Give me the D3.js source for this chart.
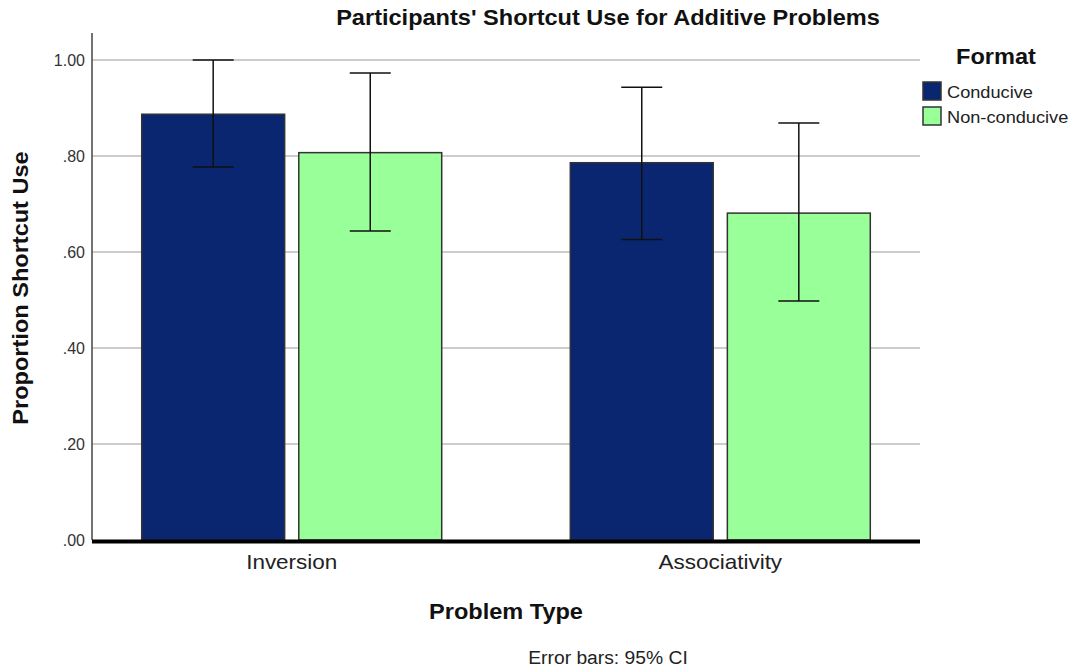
<!DOCTYPE html>
<html><head><meta charset="utf-8">
<script src="https://cdn.jsdelivr.net/npm/d3@7"></script>
<style>
body{margin:0;background:#fff;}
text{font-family:"Liberation Sans",Arial,sans-serif;}
</style>
</head><body>
<svg id="chart" width="1073" height="672"></svg>
<script>
const categories = ["Inversion", "Associativity"];
const seriesNames = ["Conducive", "Non-conducive"];
const conduciveMean = [0.887, 0.786];
const conduciveLow = [0.777, 0.626];
const conduciveHigh = [1.0, 0.943];
const nonConduciveMean = [0.807, 0.681];
const nonConduciveLow = [0.644, 0.498];
const nonConduciveHigh = [0.973, 0.869];
const yTicks = [0, 0.2, 0.4, 0.6, 0.8, 1.0];
const colors = ["#0a2670", "#99ff99"];

const series = [
  {name: seriesNames[0], mean: conduciveMean, lo: conduciveLow, hi: conduciveHigh},
  {name: seriesNames[1], mean: nonConduciveMean, lo: nonConduciveLow, hi: nonConduciveHigh}
];
const rows = [];
categories.forEach((c, i) => series.forEach((s, j) => rows.push({cat: c, ser: s.name, idx: j, mean: s.mean[i], lo: s.lo[i], hi: s.hi[i]})));

const svg = d3.select("#chart");
const mLeft = 92, mRight = 920, mTop = 33, mBottom = 540;

const y = d3.scaleLinear().domain([0, 1]).range([mBottom, 60]);
const x0 = d3.scaleBand().domain(categories).range([mLeft, mRight]).paddingInner(0.30).paddingOuter(0.116);
const x1 = d3.scaleBand().domain(seriesNames).range([0, x0.bandwidth()]).paddingInner(0.09).paddingOuter(0);
const color = d3.scaleOrdinal().domain(seriesNames).range(colors);

// gridlines
svg.append("g").selectAll("line").data(yTicks.filter(d => d > 0)).join("line")
  .attr("x1", mLeft).attr("x2", mRight)
  .attr("y1", d => y(d)).attr("y2", d => y(d))
  .attr("stroke", "#bdbdbd").attr("stroke-width", 1.5);

// y axis
const yAxis = svg.append("g").attr("transform", `translate(${mLeft},0)`)
  .call(d3.axisLeft(y).tickValues(yTicks).tickSize(0).tickPadding(7)
    .tickFormat(v => d3.format(".2f")(v).replace(/^0/, "")));
yAxis.select(".domain").remove();
yAxis.selectAll("text").attr("font-size", 16).attr("fill", "#333").attr("font-family", "Liberation Sans, Arial, sans-serif");
svg.append("line").attr("x1", mLeft).attr("x2", mLeft).attr("y1", mTop).attr("y2", mBottom)
  .attr("stroke", "#444").attr("stroke-width", 1.5);

// bars
const g = svg.append("g");
g.selectAll("rect").data(rows).join("rect")
  .attr("x", d => x0(d.cat) + x1(d.ser))
  .attr("width", x1.bandwidth())
  .attr("y", d => y(d.mean))
  .attr("height", d => y(0) - y(d.mean))
  .attr("fill", d => color(d.ser))
  .attr("stroke", "#333").attr("stroke-width", 1.5);

// error bars
const capW = 41;
const eb = svg.append("g").attr("stroke", "#111").attr("stroke-width", 1.5);
rows.forEach(d => {
  const cx = x0(d.cat) + x1(d.ser) + x1.bandwidth() / 2;
  eb.append("line").attr("x1", cx).attr("x2", cx).attr("y1", y(d.hi)).attr("y2", y(d.lo));
  eb.append("line").attr("x1", cx - capW / 2).attr("x2", cx + capW / 2).attr("y1", y(d.hi)).attr("y2", y(d.hi));
  eb.append("line").attr("x1", cx - capW / 2).attr("x2", cx + capW / 2).attr("y1", y(d.lo)).attr("y2", y(d.lo));
});

// x axis
const xAxis = svg.append("g").attr("transform", `translate(0,${mBottom})`)
  .call(d3.axisBottom(x0).tickSize(0).tickPadding(14));
xAxis.select(".domain").remove();
xAxis.selectAll("text").attr("font-size", 21).attr("fill", "#222").attr("font-family", "Liberation Sans, Arial, sans-serif")
  .attr("class", "stretch");
svg.append("line").attr("x1", mLeft).attr("x2", mRight).attr("y1", mBottom + 1.5).attr("y2", mBottom + 1.5)
  .attr("stroke", "#000").attr("stroke-width", 4);

// titles
svg.append("text").attr("class", "stretch").attr("x", 608).attr("y", 25).attr("text-anchor", "middle")
  .attr("font-size", 22).attr("font-weight", "bold").attr("fill", "#111")
  .text("Participants' Shortcut Use for Additive Problems");
svg.append("text").attr("class", "stretch").attr("transform", "translate(28,288) rotate(-90)").attr("text-anchor", "middle")
  .attr("font-size", 22).attr("font-weight", "bold").attr("fill", "#111")
  .text("Proportion Shortcut Use");
svg.append("text").attr("class", "stretch").attr("x", 506).attr("y", 619).attr("text-anchor", "middle")
  .attr("font-size", 22).attr("font-weight", "bold").attr("fill", "#111")
  .text("Problem Type");
svg.append("text").attr("class", "stretch").attr("x", 608).attr("y", 664).attr("text-anchor", "middle")
  .attr("font-size", 18).attr("fill", "#222")
  .text("Error bars: 95% CI");

// legend
const lg = svg.append("g");
lg.append("text").attr("class", "stretch").attr("x", 996).attr("y", 64).attr("text-anchor", "middle")
  .attr("font-size", 22).attr("font-weight", "bold").attr("fill", "#111").text("Format");
const items = lg.selectAll("g.item").data(seriesNames).join("g").attr("class", "item")
  .attr("transform", (d, i) => `translate(923,${82 + i * 25})`);
items.append("rect").attr("width", 18).attr("height", 18)
  .attr("fill", d => color(d)).attr("stroke", "#333").attr("stroke-width", 1.5);
items.append("text").attr("class", "stretch").attr("x", 24).attr("y", 16).attr("font-size", 17).attr("fill", "#222").text(d => d);

// slight horizontal stretch of text to match the reference rendering
const stretch = 1.07;
svg.selectAll("text.stretch").each(function() {
  const w = this.getComputedTextLength();
  d3.select(this).attr("textLength", w * stretch).attr("lengthAdjust", "spacingAndGlyphs");
});
</script>
</body></html>
